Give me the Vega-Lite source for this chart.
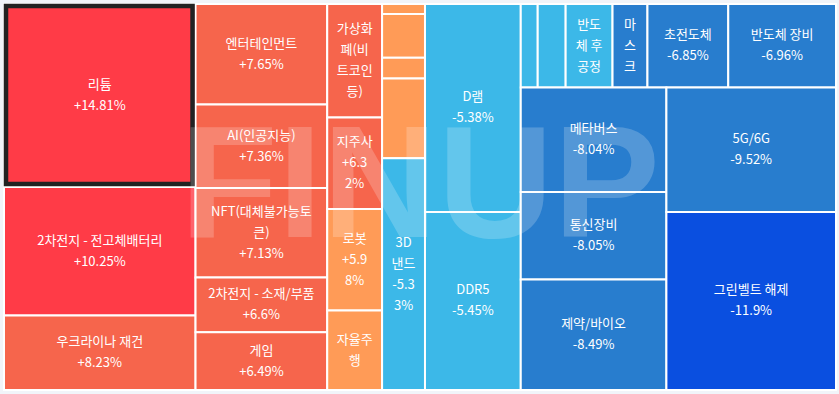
{
  "$schema": "https://vega.github.io/schema/vega-lite/v6.json",
  "width": 839,
  "height": 394,
  "autosize": {"type": "fit", "contains": "padding"},
  "padding": {"left": 3, "top": 3, "right": 2, "bottom": 3},
  "background": "#f1f4f9",
  "config": {"view": {"stroke": null}},
  "data": {
    "values": [
      {"name": "리튬", "change": 14.81, "grp": "L", "col": 1, "w": 35328},
      {"name": "2차전지 - 전고체배터리", "change": 10.25, "grp": "L", "col": 1, "w": 24768},
      {"name": "우크라이나 재건", "change": 8.23, "grp": "L", "col": 1, "w": 14400},
      {"name": "엔터테인먼트", "change": 7.65, "grp": "L", "col": 2, "w": 13332},
      {"name": "AI(인공지능)", "change": 7.36, "grp": "L", "col": 2, "w": 11088},
      {"name": "NFT(대체불가능토큰)", "change": 7.13, "grp": "L", "col": 2, "w": 11880, "label": "NFT(대체불가능토\n큰)\n+7.13%"},
      {"name": "2차전지 - 소재/부품", "change": 6.6, "grp": "L", "col": 2, "w": 7260},
      {"name": "게임", "change": 6.49, "grp": "L", "col": 2, "w": 7656},
      {"name": "가상화폐(비트코인 등)", "change": 6.4, "grp": "L", "col": 3, "w": 6270, "label": "가상화\n폐(비\n트코인\n등)"},
      {"name": "지주사", "change": 6.32, "grp": "L", "col": 3, "w": 5060, "label": "지주사\n+6.3\n2%"},
      {"name": "로봇", "change": 5.98, "grp": "L", "col": 3, "w": 5610, "label": "로봇\n+5.9\n8%"},
      {"name": "자율주행", "change": 5.9, "grp": "L", "col": 3, "w": 4400, "label": "자율주\n행"},
      {"name": "미표시 테마 1", "change": 5.8, "grp": "L", "col": 4, "w": 430, "label": ""},
      {"name": "미표시 테마 2", "change": 5.6, "grp": "L", "col": 4, "w": 1892, "label": ""},
      {"name": "미표시 테마 3", "change": 5.3, "grp": "L", "col": 4, "w": 903, "label": ""},
      {"name": "미표시 테마 4", "change": 4.9, "grp": "L", "col": 4, "w": 3440, "label": ""},
      {"name": "3D 낸드", "change": -5.33, "grp": "L", "col": 4, "w": 10019, "label": "3D\n낸드\n-5.3\n3%"},
      {"name": "D램", "change": -5.38, "grp": "L", "col": 5, "w": 20064},
      {"name": "DDR5", "change": -5.45, "grp": "L", "col": 5, "w": 17184},
      {"name": "미표시 테마 5", "change": -5.5, "grp": "RT", "col": 6, "w": 1428, "label": ""},
      {"name": "미표시 테마 6", "change": -5.6, "grp": "RT", "col": 7, "w": 2352, "label": ""},
      {"name": "반도체 후공정", "change": -5.8, "grp": "RT", "col": 8, "w": 3948, "label": "반도\n체 후\n공정"},
      {"name": "마스크", "change": -6.4, "grp": "RT", "col": 9, "w": 2940, "label": "마\n스\n크"},
      {"name": "초전도체", "change": -6.85, "grp": "RT", "col": 10, "w": 6804},
      {"name": "반도체 장비", "change": -6.96, "grp": "RT", "col": 11, "w": 9072},
      {"name": "메타버스", "change": -8.04, "grp": "RB", "col": 12, "w": 15330},
      {"name": "통신장비", "change": -8.05, "grp": "RB", "col": 12, "w": 12848},
      {"name": "제약/바이오", "change": -8.49, "grp": "RB", "col": 12, "w": 16206},
      {"name": "5G/6G", "change": -9.52, "grp": "RB", "col": 13, "w": 21250},
      {"name": "그린벨트 해제", "change": -11.9, "grp": "RB", "col": 13, "w": 30430}
    ]
  },
  "transform": [
    {"calculate": "datum.grp == 'L' ? datum.w : 0", "as": "wL"},
    {"calculate": "datum.grp == 'RT' ? datum.w : 0", "as": "wRT"},
    {"calculate": "datum.grp == 'RB' ? datum.w : 0", "as": "wRB"},
    {"joinaggregate": [
      {"op": "sum", "field": "w", "as": "T"},
      {"op": "sum", "field": "wL", "as": "AL"},
      {"op": "sum", "field": "wRT", "as": "ART"},
      {"op": "sum", "field": "wRB", "as": "ARB"}
    ]},
    {"joinaggregate": [{"op": "sum", "field": "w", "as": "G"}], "groupby": ["grp"]},
    {"stack": "w", "groupby": ["grp"], "sort": [{"field": "col", "order": "ascending"}, {"field": "change", "order": "descending"}], "as": ["s0", "s1"]},
    {"joinaggregate": [{"op": "min", "field": "s0", "as": "c0"}, {"op": "max", "field": "s1", "as": "c1"}], "groupby": ["grp", "col"]},
    {"stack": "w", "groupby": ["grp", "col"], "sort": [{"field": "change", "order": "descending"}], "offset": "normalize", "as": ["t0", "t1"]},
    {"calculate": "datum.grp == 'L' ? 0 : datum.AL / datum.T", "as": "rx"},
    {"calculate": "datum.grp == 'L' ? datum.AL / datum.T : (datum.ART + datum.ARB) / datum.T", "as": "rw"},
    {"calculate": "datum.grp == 'RB' ? datum.ART / (datum.ART + datum.ARB) : 0", "as": "ry"},
    {"calculate": "datum.grp == 'L' ? 1 : datum.G / (datum.ART + datum.ARB)", "as": "rh"},
    {"calculate": "datum.rx + datum.rw * datum.c0 / datum.G", "as": "x0"},
    {"calculate": "datum.rx + datum.rw * datum.c1 / datum.G", "as": "x1"},
    {"calculate": "datum.ry + datum.rh * datum.t0", "as": "y0"},
    {"calculate": "datum.ry + datum.rh * datum.t1", "as": "y1"},
    {"calculate": "(datum.x0 + datum.x1) / 2", "as": "cx"},
    {"calculate": "(datum.y0 + datum.y1) / 2", "as": "cy"},
    {"calculate": "datum.label != null ? datum.label : datum.name + '\\n' + (datum.change > 0 ? '+' : '') + datum.change + '%'", "as": "txt"},
    {"calculate": "length(split(datum.txt, '\\n'))", "as": "nl"}
  ],
  "layer": [
    {
      "mark": {"type": "rect", "stroke": "#ffffff", "strokeWidth": 2},
      "encoding": {
        "x": {"field": "x0", "type": "quantitative", "scale": {"domain": [0, 1], "nice": false, "zero": false}, "axis": null},
        "x2": {"field": "x1"},
        "y": {"field": "y0", "type": "quantitative", "scale": {"domain": [0, 1], "nice": false, "zero": false, "reverse": true}, "axis": null},
        "y2": {"field": "y1"},
        "color": {
          "field": "change",
          "type": "quantitative",
          "scale": {"type": "threshold", "domain": [-10, -6, 0, 6, 10], "range": ["#0a4fe0", "#287dce", "#3cb8e8", "#ff9b57", "#f6654c", "#ff3b47"]},
          "legend": null
        },
        "tooltip": [{"field": "name"}, {"field": "change"}]
      }
    },
    {
      "transform": [{"filter": "datum.name == '리튬'"}],
      "mark": {"type": "rect", "fill": null, "fillOpacity": 0, "stroke": "#222222", "strokeWidth": 4.5, "xOffset": 2, "x2Offset": -3, "yOffset": 2, "y2Offset": -3},
      "encoding": {
        "x": {"field": "x0", "type": "quantitative"},
        "x2": {"field": "x1"},
        "y": {"field": "y0", "type": "quantitative"},
        "y2": {"field": "y1"}
      }
    },
    {
      "data": {"values": [{"mark": "FINUP"}]},
      "transform": [],
      "mark": {"type": "text", "font": "Liberation Sans", "fontWeight": "bold", "fontSize": 160, "color": "#ffffff", "opacity": 0.2, "align": "center", "baseline": "middle"},
      "encoding": {
        "text": {"field": "mark"},
        "x": {"datum": 0.5, "type": "quantitative"},
        "y": {"datum": 0.48, "type": "quantitative"}
      }
    },
    {
      "transform": [{"filter": "datum.nl == 2"}],
      "mark": {"type": "text", "font": "Noto Sans CJK KR", "fontSize": 13, "color": "#ffffff", "align": "center", "baseline": "middle", "lineBreak": "\n", "lineHeight": 21, "dy": -10.5},
      "encoding": {
        "x": {"field": "cx", "type": "quantitative"},
        "y": {"field": "cy", "type": "quantitative"},
        "text": {"field": "txt"}
      }
    },
    {
      "transform": [{"filter": "datum.nl == 3"}],
      "mark": {"type": "text", "font": "Noto Sans CJK KR", "fontSize": 13, "color": "#ffffff", "align": "center", "baseline": "middle", "lineBreak": "\n", "lineHeight": 21, "dy": -21},
      "encoding": {
        "x": {"field": "cx", "type": "quantitative"},
        "y": {"field": "cy", "type": "quantitative"},
        "text": {"field": "txt"}
      }
    },
    {
      "transform": [{"filter": "datum.nl == 4"}],
      "mark": {"type": "text", "font": "Noto Sans CJK KR", "fontSize": 13, "color": "#ffffff", "align": "center", "baseline": "middle", "lineBreak": "\n", "lineHeight": 21, "dy": -31.5},
      "encoding": {
        "x": {"field": "cx", "type": "quantitative"},
        "y": {"field": "cy", "type": "quantitative"},
        "text": {"field": "txt"}
      }
    }
  ]
}
